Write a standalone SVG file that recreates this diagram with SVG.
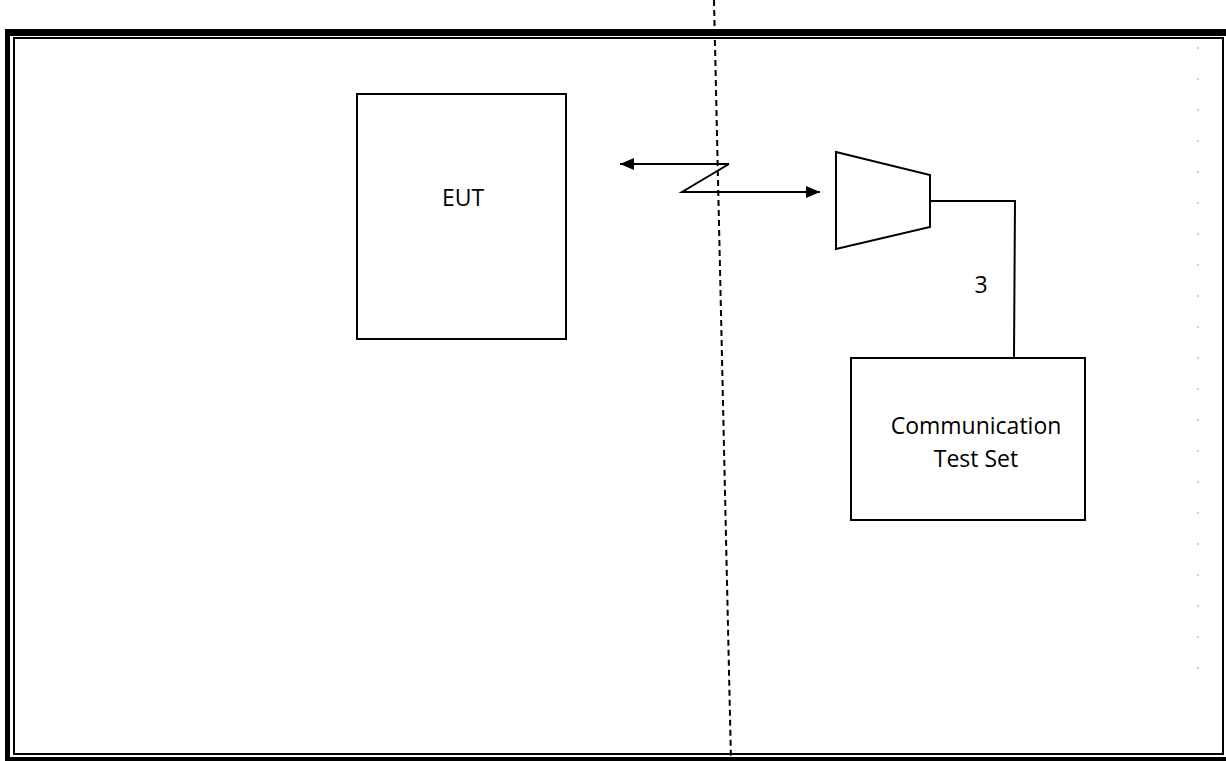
<svg xmlns="http://www.w3.org/2000/svg" width="1226" height="761" viewBox="0 0 1226 761">
<style>
.box{fill:#fff;stroke:#000;stroke-width:2}
.ln{fill:none;stroke:#000;stroke-width:2}
.txt{font-family:"Open Sans","Liberation Sans",sans-serif;font-size:23px;fill:#000;text-anchor:middle}
.dot{fill:#d0d0d0}
</style>
<defs>
<marker id="ah" viewBox="0 0 14 12" refX="14" refY="6" markerWidth="14" markerHeight="12" markerUnits="userSpaceOnUse" orient="auto">
<path d="M0,0 L14,6 L0,12 Z" fill="#000"/>
</marker>
</defs>
<rect width="1226" height="761" fill="#fff"/>
<g id="frame">
<rect x="5" y="29" width="5" height="732" fill="#000"/>
<rect x="5" y="29" width="1221" height="7" fill="#000"/>
<rect x="5" y="757" width="1221" height="4" fill="#000"/>
<rect x="14" y="38" width="1209" height="716" fill="none" stroke="#000" stroke-width="2"/>
</g>
<g id="dots">
<rect class="dot" x="1197" y="47" width="2" height="2"/>
<rect class="dot" x="1197" y="78" width="2" height="2"/>
<rect class="dot" x="1197" y="109" width="2" height="2"/>
<rect class="dot" x="1197" y="140" width="2" height="2"/>
<rect class="dot" x="1197" y="171" width="2" height="2"/>
<rect class="dot" x="1197" y="202" width="2" height="2"/>
<rect class="dot" x="1197" y="233" width="2" height="2"/>
<rect class="dot" x="1197" y="264" width="2" height="2"/>
<rect class="dot" x="1197" y="295" width="2" height="2"/>
<rect class="dot" x="1197" y="326" width="2" height="2"/>
<rect class="dot" x="1197" y="357" width="2" height="2"/>
<rect class="dot" x="1197" y="388" width="2" height="2"/>
<rect class="dot" x="1197" y="419" width="2" height="2"/>
<rect class="dot" x="1197" y="450" width="2" height="2"/>
<rect class="dot" x="1197" y="481" width="2" height="2"/>
<rect class="dot" x="1197" y="512" width="2" height="2"/>
<rect class="dot" x="1197" y="543" width="2" height="2"/>
<rect class="dot" x="1197" y="574" width="2" height="2"/>
<rect class="dot" x="1197" y="605" width="2" height="2"/>
<rect class="dot" x="1197" y="636" width="2" height="2"/>
<rect class="dot" x="1197" y="667" width="2" height="2"/>
</g>
<g id="eut">
<rect class="box" x="357" y="94" width="209" height="245"/>
<text class="txt" x="463" y="206">EUT</text>
</g>
<g id="antenna">
<polygon class="box" points="836,152 930,175 930,227 836,249"/>
</g>
<g id="testset">
<rect class="box" x="851" y="358" width="234" height="162"/>
<text class="txt" x="976" y="434">Communication</text>
<text class="txt" x="976" y="467">Test Set</text>
</g>
<g id="connectors">
<line x1="714" y1="0" x2="731" y2="761" stroke="#000" stroke-width="2" stroke-dasharray="6,4"/>
<polyline class="ln" points="729,164 620,164" marker-end="url(#ah)"/>
<polyline class="ln" points="729,164 682,192 820,192" marker-end="url(#ah)"/>
<polyline class="ln" points="930,201 1015,201 1014,358"/>
<text class="txt" x="981" y="293">3</text>
</g>
</svg>
